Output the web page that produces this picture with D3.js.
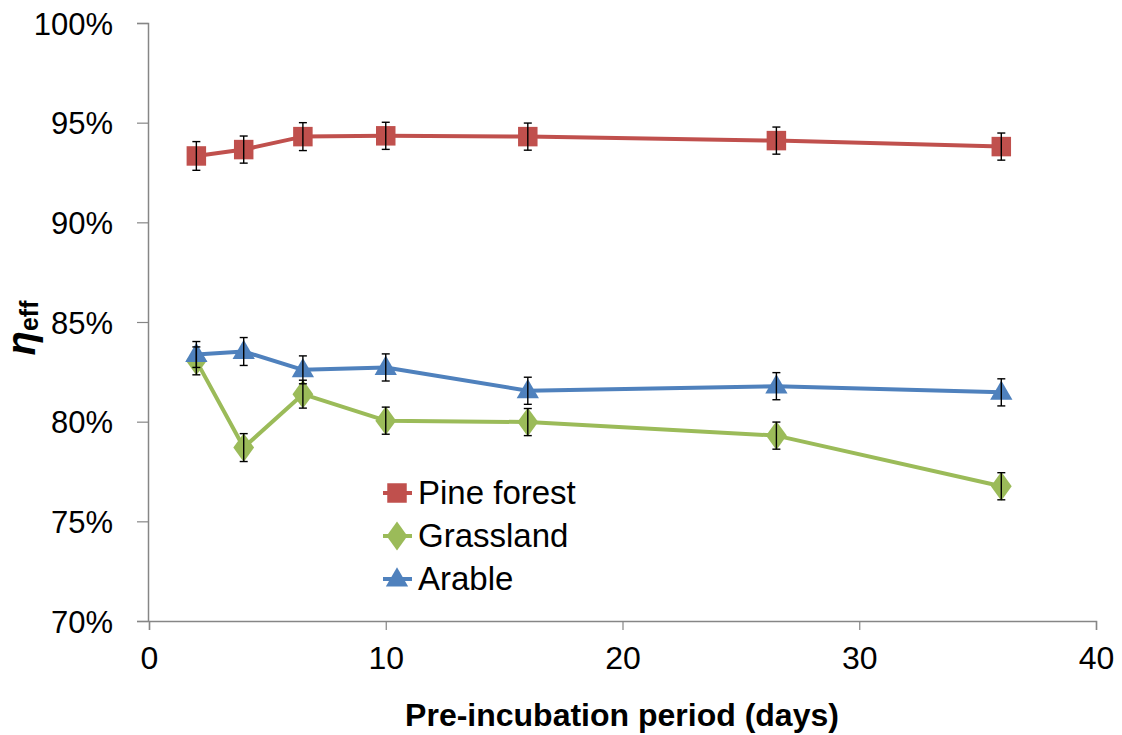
<!DOCTYPE html>
<html><head><meta charset="utf-8">
<script src="https://cdn.jsdelivr.net/npm/d3@7"></script>
<style>body{margin:0;background:#fff}svg{display:block}text{font-family:"Liberation Sans",Arial,sans-serif}</style>
</head><body>
<svg id="c" width="1122" height="735"></svg>
<script>
const days = [2, 4, 6.5, 10, 16, 26.5, 36];
const pineForest = [0.9333, 0.9365, 0.9430, 0.9434, 0.9430, 0.9410, 0.9380];
const grassland  = [0.8305, 0.7870, 0.8138, 0.8005, 0.7998, 0.7930, 0.7676];
const arable     = [0.8337, 0.8352, 0.8260, 0.8272, 0.8155, 0.8178, 0.8147];
const errPine = [0.0072, 0.0068, 0.0070, 0.0068, 0.0068, 0.0068, 0.0068];
const errGrass = [0.0070, 0.0070, 0.0070, 0.0068, 0.0068, 0.0068, 0.0068];
const errArable = [0.0065, 0.0070, 0.0070, 0.0068, 0.0068, 0.0068, 0.0068];
const xTicks = [0, 10, 20, 30, 40];
const yTicks = [0.70, 0.75, 0.80, 0.85, 0.90, 0.95, 1.00];
const seriesNames = ["Pine forest", "Grassland", "Arable"];
const seriesColors = ["#C0504D", "#9BBB59", "#4F81BD"];

const svg = d3.select("#c");
const x = d3.scaleLinear().domain([0, 40]).range([149, 1096]);
const y = d3.scaleLinear().domain([0.70, 1.00]).range([621, 23]);
const axisColor = "#868686";

// axes
const gx = svg.append("g").attr("transform", "translate(0,621)")
  .call(d3.axisBottom(x).tickValues(xTicks).tickSize(9).tickPadding(10).tickFormat(d3.format("d")));
gx.select(".domain").attr("stroke", axisColor).attr("stroke-width", 1.5);
gx.selectAll(".tick line").attr("stroke", axisColor).attr("stroke-width", 1.2);
gx.selectAll(".tick text").attr("font-size", 32).attr("fill", "#000").attr("dy", "0.71em").attr("y", 25)
  .style("font-family", '"Liberation Sans", Arial, sans-serif');

const gy = svg.append("g").attr("transform", "translate(148,0)")
  .call(d3.axisLeft(y).tickValues(yTicks).tickSize(11).tickPadding(24).tickFormat(d3.format(".0%")));
gy.select(".domain").attr("stroke", axisColor).attr("stroke-width", 1.5);
gy.selectAll(".tick line").attr("stroke", axisColor).attr("stroke-width", 1.2);
gy.selectAll(".tick text").attr("font-size", 31).attr("fill", "#000").attr("dy", "0.36em")
  .style("font-family", '"Liberation Sans", Arial, sans-serif');

// axis titles
svg.append("text").attr("x", 622).attr("y", 726).attr("text-anchor", "middle")
  .attr("font-size", 32).attr("font-weight", "bold").text("Pre-incubation period (days)");
const yt = svg.append("text").attr("transform", "translate(35,328) rotate(-90)")
  .attr("text-anchor", "middle").attr("font-weight", "bold");
yt.append("tspan").attr("font-size", 40).attr("font-style", "italic").text("η");
yt.append("tspan").attr("font-size", 25).attr("dy", 3).text("eff");

const data = [pineForest, grassland, arable];
const errs = [errPine, errGrass, errArable];
const line = d3.line().x(d => x(d[0])).y(d => y(d[1]));

const symbols = [
  d3.symbol().type(d3.symbolSquare).size(380),
  d3.symbol().type(d3.symbolDiamond).size(240),
  d3.symbol().type(d3.symbolTriangle).size(215)
];

data.forEach((vals, i) => {
  const pts = days.map((d, j) => [d, vals[j]]);
  svg.append("path").datum(pts).attr("d", line).attr("fill", "none")
    .attr("stroke", seriesColors[i]).attr("stroke-width", 4).attr("stroke-linejoin", "round");
});
data.forEach((vals, i) => {
  const pts = days.map((d, j) => [d, vals[j]]);
  svg.append("g").selectAll("path").data(pts).join("path")
    .attr("d", symbols[i])
    .attr("transform", d => `translate(${x(d[0])},${y(d[1]) + (i === 2 ? 1 : 0)})${i === 1 ? " scale(1.25,1)" : ""}`)
    .attr("fill", seriesColors[i]);
});
// error bars
data.forEach((vals, i) => {
  const g = svg.append("g").attr("stroke", "#000").attr("stroke-width", 1.4);
  days.forEach((d, j) => {
    const cx = x(d), top = y(vals[j] + errs[i][j]), bot = y(vals[j] - errs[i][j]);
    g.append("line").attr("x1", cx).attr("x2", cx).attr("y1", top).attr("y2", bot);
    g.append("line").attr("x1", cx - 4).attr("x2", cx + 4).attr("y1", top).attr("y2", top);
    g.append("line").attr("x1", cx - 4).attr("x2", cx + 4).attr("y1", bot).attr("y2", bot);
  });
});

// legend
const legY = [493, 536, 579];
seriesNames.forEach((name, i) => {
  const g = svg.append("g").attr("transform", `translate(0,${legY[i]})`);
  g.append("line").attr("x1", 383).attr("x2", 412).attr("y1", 0).attr("y2", 0)
    .attr("stroke", seriesColors[i]).attr("stroke-width", 4);
  g.append("path").attr("d", symbols[i])
    .attr("transform", `translate(397,${i === 2 ? 1 : 0})${i === 1 ? " scale(1.25,1)" : ""}`)
    .attr("fill", seriesColors[i]);
  g.append("text").attr("x", 418).attr("y", 11).attr("font-size", 33).attr("fill", "#000").text(name);
});
</script>
</body></html>
